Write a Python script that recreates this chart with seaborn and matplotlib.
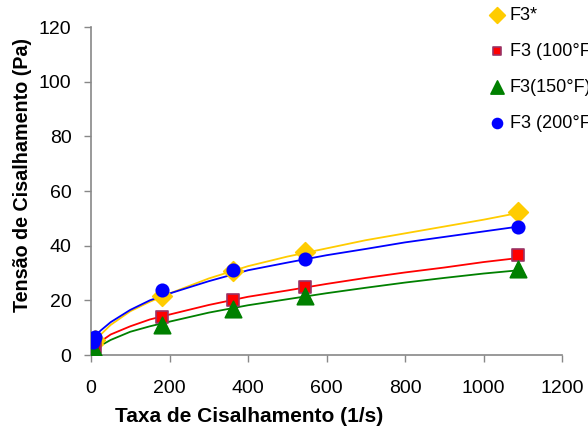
import numpy as np
import pandas as pd
import matplotlib
matplotlib.use("Agg")
import matplotlib.pyplot as plt
import seaborn as sns

sns.set_style("white")
plt.rcParams['font.family'] = ['Liberation Sans', 'DejaVu Sans']
plt.rcParams['text.color'] = 'black'
plt.rcParams['axes.labelcolor'] = 'black'
plt.rcParams['xtick.color'] = 'black'
plt.rcParams['ytick.color'] = 'black'

# Measured points
pt_x = [5.4, 10.9, 181, 362, 545, 1089]
f3_star = [4.0, 5.5, 21.5, 30.8, 37.8, 52.2]
f3_100 = [2.5, 3.0, 13.8, 20.2, 25.0, 36.5]
f3_150 = [1.0, 1.5, 11.0, 17.0, 21.5, 31.5]
f3_200 = [4.8, 6.5, 23.8, 31.0, 35.2, 47.0]

# Continuous curves
cv_x = [0, 10, 25, 50, 100, 150, 200, 300, 400, 500, 600, 700, 800, 900, 1000, 1090]
cv_star = [3.0, 5.0, 7.5, 11.0, 16.0, 19.5, 22.5, 28.0, 32.5, 36.0, 39.0, 42.0, 44.5, 47.0, 49.5, 52.0]
cv_100 = [1.0, 3.0, 5.0, 7.5, 10.5, 13.0, 14.8, 18.3, 21.3, 23.6, 26.0, 28.2, 30.2, 32.0, 34.0, 35.5]
cv_150 = [0.5, 2.0, 3.5, 5.5, 8.5, 10.5, 12.2, 15.5, 18.2, 20.4, 22.6, 24.6, 26.5, 28.2, 29.8, 31.0]
cv_200 = [4.0, 7.0, 9.0, 12.0, 16.5, 20.0, 22.5, 27.0, 31.0, 33.8, 36.5, 38.8, 41.2, 43.2, 45.2, 47.0]

labels = ["F3*", "F3 (100°F)", "F3(150°F)", "F3 (200°F)"]
colors = ["#FFCC00", "#FF0000", "#008000", "#0000FF"]
markers = ["D", "s", "^", "o"]
msizes = [100, 65, 140, 80]
edges = ["#FFCC00", "#993366", "#008000", "#0000FF"]

fig = plt.figure(figsize=(5.88, 4.32), dpi=100)
ax = fig.add_axes([91 / 588, 77 / 432, 471 / 588, 328 / 432])

for lab, col, cy in zip(labels, colors, [cv_star, cv_100, cv_150, cv_200]):
    sns.lineplot(x=cv_x, y=cy, color=col, lw=1.3, ax=ax, legend=False)

for lab, col, m, s, ec, py in zip(labels, colors, markers, msizes, edges,
                                  [f3_star, f3_100, f3_150, f3_200]):
    sns.scatterplot(x=pt_x, y=py, color=col, marker=m, s=s, edgecolor=ec,
                    linewidth=1.2, ax=ax, label=lab, zorder=3)

ax.set_xlim(0, 1200)
ax.set_ylim(0, 120)
ax.set_xticks(range(0, 1201, 200))
ax.set_yticks(range(0, 121, 20))
ax.tick_params(axis='both', labelsize=14, direction='out', length=5,
               color='#888888', labelcolor='black', width=1, left=True, bottom=True)
ax.tick_params(axis='x', pad=13)
ax.tick_params(axis='y', pad=9)
for side in ['top', 'right']:
    ax.spines[side].set_visible(False)
for side in ['left', 'bottom']:
    ax.spines[side].set_color('#888888')
    ax.spines[side].set_linewidth(1.2)

ax.set_xlabel("Taxa de Cisalhamento (1/s)", fontsize=15, fontweight='bold', va='center')
ax.set_ylabel("Tensão de Cisalhamento (Pa)", fontsize=14.2, fontweight='bold', va='center')
ax.xaxis.set_label_coords(0.3365, -0.189)
ax.yaxis.set_label_coords(-0.146, 0.549)

leg = ax.legend(loc='upper left', bbox_to_anchor=(0.818, 1.001),
                bbox_transform=fig.transFigure, frameon=False, fontsize=13,
                handletextpad=0.2, labelspacing=1.05, borderaxespad=0,
                handlelength=1.0, markerscale=0.8)

fig.savefig("out.png", dpi=100)
